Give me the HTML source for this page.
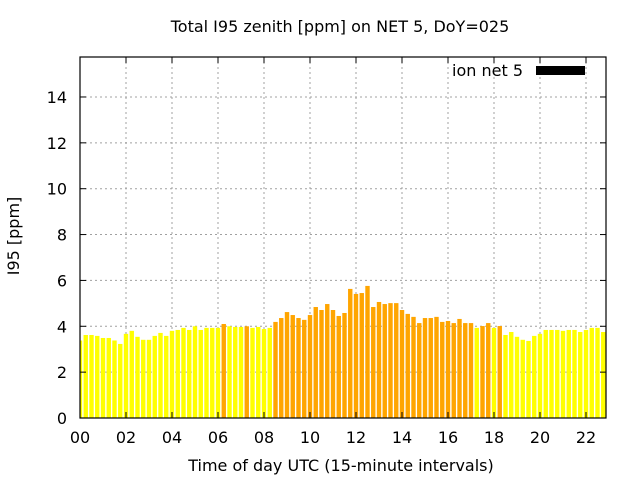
<!DOCTYPE html>
<html><head><meta charset="utf-8"><style>
body{margin:0;background:#fff;}
svg text{font-family:"DejaVu Sans","Liberation Sans",sans-serif;}
</style></head><body>
<svg id="chart" width="640" height="480" xmlns="http://www.w3.org/2000/svg">
<rect width="640" height="480" fill="#fff"/>
<text x="340" y="32" font-size="16" text-anchor="middle">Total I95 zenith [ppm] on NET 5, DoY=025</text>
<text x="341" y="471" font-size="16" text-anchor="middle">Time of day UTC (15-minute intervals)</text>
<text transform="translate(19,236) rotate(-90)" font-size="16" text-anchor="middle">I95 [ppm]</text>
<g id="grid"></g>
<g id="bars"></g>
<g id="ticks"></g>
<rect x="80" y="57" width="526" height="361" fill="none" stroke="#000" stroke-width="1.2"/>
<g>
<text x="523" y="76" font-size="16" text-anchor="end">ion net 5</text>
<rect x="536" y="66" width="49" height="9" fill="#000"/>
</g>
</svg>
<script>
const values = [3.38,3.62,3.62,3.58,3.49,3.49,3.38,3.23,3.67,3.8,3.54,3.41,3.41,3.58,3.71,3.58,3.8,3.84,3.93,3.84,4.0,3.84,3.93,3.93,3.93,4.1,4.0,3.97,3.97,4.0,
3.93,3.97,3.88,3.93,4.19,4.36,4.62,4.49,4.36,4.28,4.49,4.84,4.71,4.97,4.71,4.45,4.58,5.63,5.41,5.45,5.76,4.84,5.06,4.97,5.01,5.01,4.71,4.54,4.41,4.14,
4.36,4.36,4.41,4.19,4.23,4.14,4.32,4.14,4.14,3.93,4.01,4.14,3.93,4.01,3.62,3.75,3.54,3.41,3.36,3.58,3.67,3.84,3.84,3.84,3.8,3.84,3.84,3.75,3.84,3.93,3.93,3.75];
const orangeIdx = [25,29,34,35,36,37,38,39,40,41,42,43,44,45,46,47,48,49,50,51,52,53,54,55,56,57,58,59,60,61,62,63,64,65,66,67,68,70,71,73];
const xTicks = ["00","02","04","06","08","10","12","14","16","18","20","22"];
const yTicks = [0,2,4,6,8,10,12,14];
const NS="http://www.w3.org/2000/svg";
const L=80,R=606,T=57,B=418;
const xs=h=>L+h*23;
const ys=v=>B-v*22.93;
const grid=document.getElementById('grid'),bars=document.getElementById('bars'),ticks=document.getElementById('ticks');
function mk(tag,attrs,parent){const e=document.createElementNS(NS,tag);for(const k in attrs)e.setAttribute(k,attrs[k]);parent.appendChild(e);return e;}
xTicks.forEach((t,i)=>{
  const x=xs(i*2);
  if(i>0){const g=mk('line',{x1:x,x2:x,y1:T,y2:B,stroke:'#a0a0a0','stroke-dasharray':'2,3','stroke-width':1},grid);
  
  }
  const a=mk('line',{x1:x,x2:x,y1:B,y2:B-6,stroke:'#000'},ticks);
  
  
  const b=mk('line',{x1:x,x2:x,y1:T,y2:T+6,stroke:'#000'},ticks);
  
  
  const tx=mk('text',{x:x,y:443,'font-size':16,'text-anchor':'middle'},ticks);
  tx.textContent=t;
  
  
});
yTicks.forEach(v=>{
  const y=ys(v);
  if(v>0){const g=mk('line',{x1:L,x2:R,y1:y,y2:y,stroke:'#a0a0a0','stroke-dasharray':'2,3','stroke-width':1},grid);
  
  }
  const a=mk('line',{x1:L,x2:L+6,y1:y,y2:y,stroke:'#000'},ticks);
  
  
  const b=mk('line',{x1:R,x2:R-6,y1:y,y2:y,stroke:'#000'},ticks);
  
  
  const tx=mk('text',{x:L-13,y:y+6,'font-size':16,'text-anchor':'end'},ticks);
  tx.textContent=v;
  
  
});
const bw=4.4;
values.forEach((v,i)=>{
  const c=xs(i*0.25);
  let x0=Math.max(L,c-bw/2),x1=Math.min(R,c+bw/2);
  if(x1<=x0)return;
  const r=mk('rect',{x:x0,y:ys(v),width:x1-x0,height:B-ys(v),fill:orangeIdx.includes(i)?'#ffa500':'#ffff00'},bars);
  
  
});
</script>
</body></html>
